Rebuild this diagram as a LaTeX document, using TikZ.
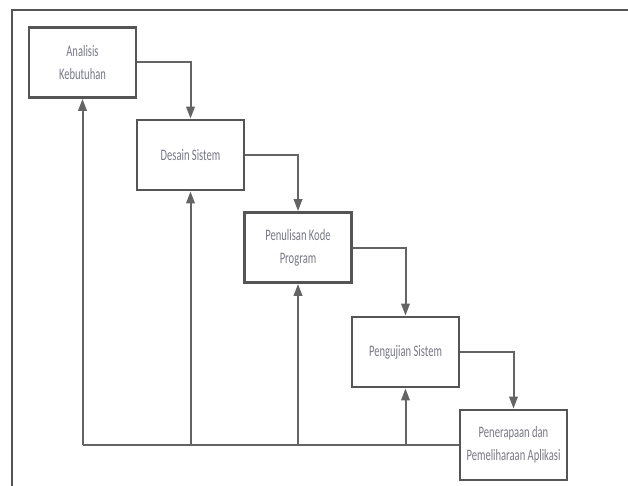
\documentclass[tikz,border=0pt]{standalone}
\usepackage{fontspec}
\usetikzlibrary{arrows.meta}
\newfontfamily\nar[FakeStretch=0.66]{Carlito}
\definecolor{boxline}{RGB}{85,85,85}
\definecolor{conline}{RGB}{100,100,100}
\definecolor{txtgray}{RGB}{120,120,135}
\tikzset{
  stagebox/.style={draw=boxline, line width=2.8pt, fill=white, minimum width=107pt, minimum height=70pt, inner sep=0pt, align=center, text=txtgray, font=\nar\fontsize{16}{23}\selectfont},
  flow/.style={draw=conline, line width=2pt, -{Triangle[length=12pt,width=8.5pt]}},
  plain/.style={draw=conline, line width=2pt},
}
\begin{document}
\begin{tikzpicture}[x=1pt,y=-1pt]
\useasboundingbox (0,0) rectangle (628,486);
\draw[draw=boxline, line width=1.8pt] (12,486) -- (12,10) -- (628,10);
\node[stagebox] (b1) at (82.5,62.5) {Analisis\\Kebutuhan};
\node[stagebox] (b2) at (190.5,155) {Desain Sistem};
\node[stagebox] (b3) at (298,247.5) {Penulisan Kode\\Program};
\node[stagebox] (b4) at (405.5,352) {Pengujian Sistem};
\node[stagebox] (b5) at (513.5,445) {Penerapaan dan\\Pemeliharaan Aplikasi};
\draw[flow] (b1.east) -| (b2.north);
\draw[flow] (b2.east) -| (b3.north);
\draw[flow] (b3.east) -| (b4.north);
\draw[flow] (b4.east) -| (b5.north);
\coordinate (c1) at (b1.south |- b5.west);
\draw[plain] (b5.west) -- (c1);
\draw[flow] (c1) -- (b1.south);
\draw[flow] (b2.south |- b5.west) -- (b2.south);
\draw[flow] (b3.south |- b5.west) -- (b3.south);
\draw[flow] (b4.south |- b5.west) -- (b4.south);
\end{tikzpicture}
\end{document}
